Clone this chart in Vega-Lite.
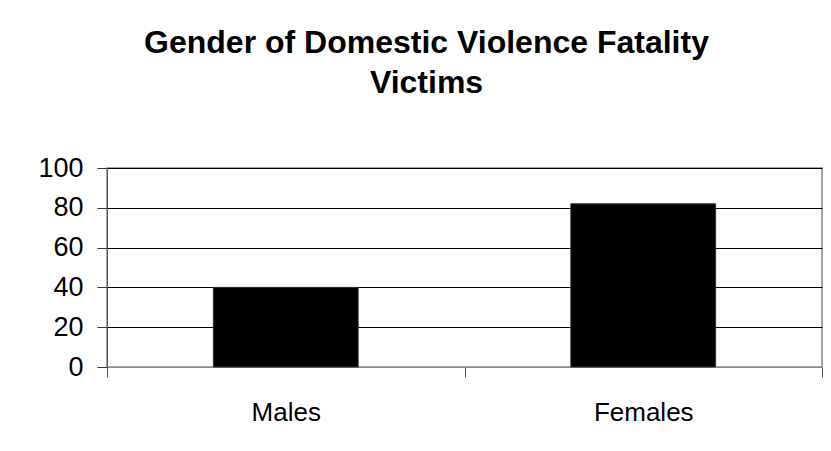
{
  "$schema": "https://vega.github.io/schema/vega-lite/v6.json",
  "autosize": "none",
  "width": 715,
  "height": 199,
  "padding": {"left": 107, "top": 168, "right": 9, "bottom": 84},
  "background": "white",
  "title": {
    "text": ["Gender of Domestic Violence Fatality", "Victims"],
    "font": "Liberation Sans",
    "fontSize": 32,
    "fontWeight": "bold",
    "color": "black",
    "lineHeight": 40,
    "anchor": "middle",
    "dx": -38,
    "offset": 54
  },
  "data": {
    "values": [
      {"gender": "Males", "victims": 40},
      {"gender": "Females", "victims": 82}
    ]
  },
  "mark": {"type": "bar", "color": "black", "stroke": "#333333", "strokeWidth": 1, "width": {"band": 0.405}},
  "encoding": {
    "x": {
      "field": "gender",
      "type": "nominal",
      "sort": ["Males", "Females"],
      "scale": {"paddingInner": 0, "paddingOuter": 0},
      "axis": {
        "title": null,
        "labelAngle": 0,
        "labelFont": "Liberation Sans",
        "labelFontSize": 26,
        "labelColor": "black",
        "labelPadding": 22,
        "tickBand": "extent",
        "tickSize": 10,
        "tickColor": "#555555",
        "domainColor": "#888888",
        "grid": false
      }
    },
    "y": {
      "field": "victims",
      "type": "quantitative",
      "scale": {"domain": [0, 100], "nice": false},
      "axis": {
        "title": null,
        "values": [0, 20, 40, 60, 80, 100],
        "labelFont": "Liberation Sans",
        "labelFontSize": 27,
        "labelColor": "black",
        "labelPadding": 14,
        "tickSize": 10,
        "tickColor": "#333333",
        "domainColor": "#555555",
        "gridColor": "black",
        "gridOpacity": 1,
        "gridWidth": 1
      }
    }
  },
  "config": {
    "view": {"stroke": "#888888", "strokeWidth": 1.5}
  }
}
